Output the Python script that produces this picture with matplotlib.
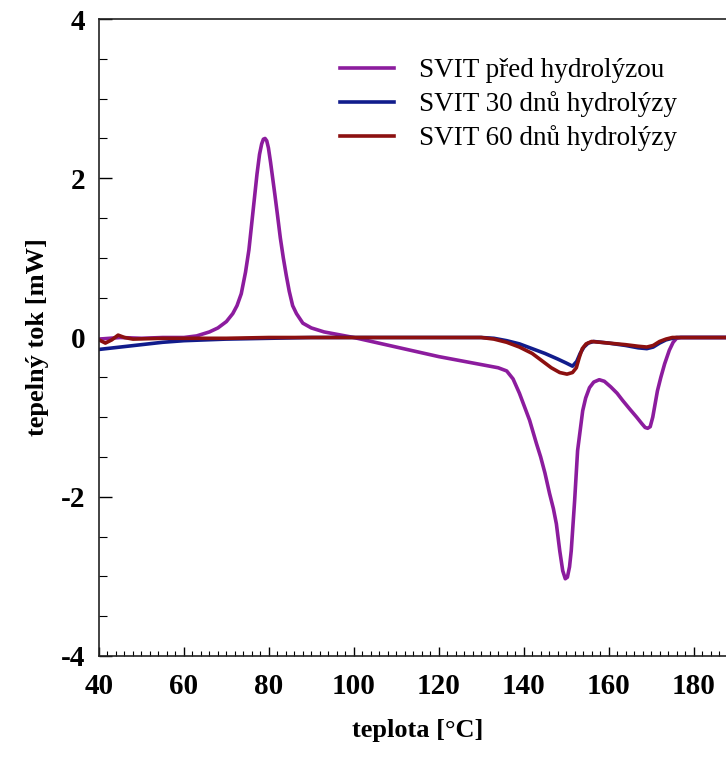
import matplotlib
matplotlib.use('Agg')  # no display
import matplotlib.pyplot as plt
from matplotlib.ticker import MultipleLocator

# DSC curves: temperature [C] and heat flow [mW]
pred_x = [40, 45, 50, 55, 60, 63, 66, 68, 70, 71.5, 72.5, 73.5, 74.5, 75.3, 76,
          76.6, 77.2, 77.8, 78.3, 78.7, 79.1, 79.5, 79.9, 80.4, 80.9, 81.4, 82,
          82.7, 83.4, 84.1, 84.8, 85.6, 86.5, 88, 90, 93, 96, 100, 105, 110, 115,
          120, 125, 130, 134, 136, 137.5, 139, 140.2, 141.4, 143, 144, 145,
          146.1, 147, 147.7, 148.5, 149.2, 149.8, 150.3, 150.8, 151.2, 152,
          152.7, 153.9, 154.6, 155.5, 156.5, 157.8, 159, 160.5, 162, 163.3, 165,
          166.6, 167.8, 168.6, 169.2, 169.8, 170.4, 171, 171.5, 172.3, 173.2,
          174.3, 175.2, 176, 177, 180, 185, 190]
pred_y = [-0.02, 0.0, -0.01, 0.0, 0.0, 0.02, 0.07, 0.12, 0.2, 0.3, 0.4, 0.55,
          0.82, 1.1, 1.45, 1.75, 2.05, 2.3, 2.43, 2.49, 2.5, 2.47, 2.38, 2.2,
          2.0, 1.8, 1.55, 1.25, 1.0, 0.78, 0.58, 0.4, 0.3, 0.18, 0.12, 0.07, 0.04,
          0.0, -0.06, -0.12, -0.18, -0.24, -0.29, -0.34, -0.38, -0.42, -0.52,
          -0.7, -0.87, -1.04, -1.33, -1.5, -1.7, -1.96, -2.15, -2.34, -2.68,
          -2.93, -3.03, -3.01, -2.88, -2.68, -2.05, -1.42, -0.92, -0.76, -0.63,
          -0.56, -0.53, -0.55, -0.62, -0.7, -0.79, -0.9, -1.0, -1.08, -1.13,
          -1.14, -1.12, -1.0, -0.82, -0.67, -0.5, -0.33, -0.16, -0.06, -0.01,
          0.0, 0.0, 0.0, 0.0]

d30_x = [40, 45, 50, 55, 60, 65, 70, 80, 90, 100, 130, 133, 136, 139, 142, 145,
         148, 150, 151.5, 152.5, 153.3, 154.2, 155.2, 156.5, 160, 164, 167, 169,
         170.5, 172, 173.5, 175, 176, 190]
d30_y = [-0.15, -0.12, -0.09, -0.06, -0.04, -0.03, -0.02, -0.01, 0.0, 0.0, 0.0,
         -0.01, -0.04, -0.08, -0.14, -0.2, -0.27, -0.32, -0.36, -0.3, -0.2,
         -0.12, -0.07, -0.05, -0.07, -0.1, -0.13, -0.14, -0.12, -0.07, -0.03,
         -0.01, 0.0, 0.0]

d60_x = [40, 41.5, 43, 44.5, 46, 48, 55, 60, 70, 80, 130, 133, 136, 139, 142,
         144.5, 146.5, 148.5, 150.2, 151.5, 152.4, 153.1, 153.8, 154.7, 156,
         160, 164, 167, 169, 170.5, 172, 173.5, 175, 190]
d60_y = [-0.03, -0.07, -0.03, 0.03, 0.0, -0.02, -0.01, -0.01, -0.01, 0.0, 0.0,
         -0.02, -0.06, -0.12, -0.2, -0.3, -0.38, -0.44, -0.46, -0.44, -0.38,
         -0.25, -0.14, -0.08, -0.05, -0.07, -0.09, -0.11, -0.12, -0.1, -0.05,
         -0.02, 0.0, 0.0]

labels = ['SVIT před hydrolýzou', 'SVIT 30 dnů hydrolýzy', 'SVIT 60 dnů hydrolýzy']
colors = ['#8C1C9E', '#111C8C', '#8C1010']

serif = ['Liberation Serif', 'DejaVu Serif']
plt.rcParams['axes.unicode_minus'] = False  # plain hyphen like the original

fig = plt.figure(figsize=(7.26, 7.58), dpi=100)
# axes runs past the right edge of the picture, like the cropped original
ax = fig.add_axes([99 / 726, 102 / 758, 637 / 726, 637 / 758])

ax.plot(pred_x, pred_y, color=colors[0], lw=2.6, label=labels[0])
ax.plot(d30_x, d30_y, color=colors[1], lw=2.6, label=labels[1])
ax.plot(d60_x, d60_y, color=colors[2], lw=2.6, label=labels[2])

ax.set_xlim(40, 190)
ax.set_ylim(-4, 4)
ax.xaxis.set_minor_locator(MultipleLocator(2))
ax.yaxis.set_major_locator(MultipleLocator(2))
ax.yaxis.set_minor_locator(MultipleLocator(0.5))
ax.set_xticks(range(40, 190, 20))

ax.tick_params(axis='x', which='major', direction='in', length=6.5, width=1, pad=12)
ax.tick_params(axis='x', which='minor', direction='in', length=3.5, width=0.8)
ax.tick_params(axis='y', which='major', direction='in', length=9, width=1, pad=10)
ax.tick_params(axis='y', which='minor', direction='in', length=6, width=0.8)
ax.tick_params(top=False, right=False, which='both')

for lab in ax.get_xticklabels() + ax.get_yticklabels():
    lab.set_fontfamily(serif)
    lab.set_fontweight('bold')
    lab.set_fontsize(21)

for sp in ax.spines.values():
    sp.set_linewidth(1.2)
    sp.set_color('#222222')

ax.set_xlabel('teplota [°C]', fontfamily=serif, fontweight='bold', fontsize=19, labelpad=14)
ax.set_ylabel('tepelný tok [mW]', fontfamily=serif, fontweight='bold', fontsize=19, labelpad=8)

ax.legend(loc='upper left', bbox_to_anchor=(340 / 726, 1 - 58 / 758),
          bbox_transform=fig.transFigure, frameon=False, borderpad=0,
          borderaxespad=0, handlelength=2.0, handletextpad=0.9,
          labelspacing=0.3, prop={'family': serif, 'size': 19.5})

plt.savefig('out.png', dpi=100)
plt.close()
